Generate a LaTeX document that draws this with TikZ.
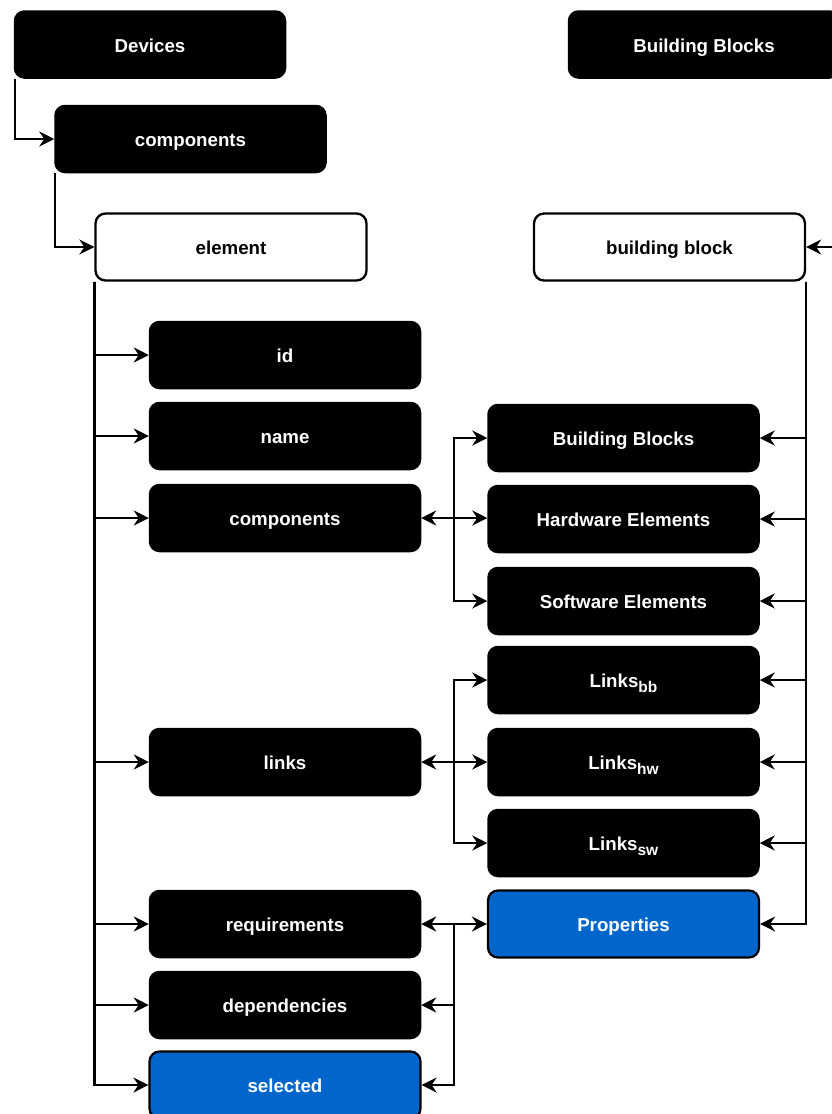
\documentclass[tikz,border=0pt]{standalone}
\usepackage{fontspec}
\setmainfont{Liberation Sans}
\usetikzlibrary{arrows.meta}
\definecolor{bblue}{HTML}{0066CC}
\tikzset{
  box/.style={rectangle, rounded corners=10pt, minimum width=271pt, minimum height=67pt, inner sep=0pt,
    draw=black, line width=1.5pt, text height=15.5pt, text depth=0pt,
    font=\fontsize{18.7}{22}\selectfont\bfseries},
  blk/.style={box, fill=black, text=white},
  wht/.style={box, fill=white, text=black, line width=2.3pt},
  blu/.style={box, fill=bblue, text=white, line width=2.2pt},
  tip/.style={Stealth[length=15pt,width=15pt,inset=5pt]},
  conn/.style={line width=2.3pt, -{Stealth[length=15pt,width=15pt,inset=5pt]}},
  biconn/.style={line width=2.3pt, {Stealth[length=15pt,width=15pt,inset=5pt]}-{Stealth[length=15pt,width=15pt,inset=5pt]}},
}
\newcommand{\lsub}[1]{\raisebox{-4.5pt}{\fontsize{15.5}{16}\selectfont #1}}
\begin{document}
\begin{tikzpicture}[x=1pt,y=-1pt]
\clip (0,0) rectangle (832,1114);
\fill[white] (0,0) rectangle (832,1114);
% top
\node[blk] (dev) at (150,44.5) {Devices};
\node[blk] (bbtop) at (704,44.5) {Building Blocks};
\node[blk] (comp1) at (190.5,139) {components};
\node[wht] (elem) at (231,247) {element};
\node[wht] (bb) at (669.5,247) {building block};
% left column
\node[blk] (id) at (285,355) {id};
\node[blk] (name) at (285,436) {name};
\node[blk] (comp2) at (285,518) {components};
\node[blk] (links) at (285,762) {links};
\node[blk] (req) at (285,924) {requirements};
\node[blk] (dep) at (285,1005) {dependencies};
\node[blu] (sel) at (285,1085) {selected};
% right column
\node[blk] (bbb) at (623.5,438) {Building Blocks};
\node[blk] (hw) at (623.5,519) {Hardware Elements};
\node[blk] (sw) at (623.5,601) {Software Elements};
\node[blk] (lbb) at (623.5,680) {Links\lsub{bb}};
\node[blk] (lhw) at (623.5,762) {Links\lsub{hw}};
\node[blk] (lsw) at (623.5,843) {Links\lsub{sw}};
\node[blu] (prop) at (623.5,924) {Properties};
% connectors top
\draw[conn] ([xshift=1pt]dev.south west) |- (comp1.west);
\draw[conn] ([xshift=1pt]comp1.south west) |- (elem.west);
\coordinate (bbin) at (845,247);
\draw[conn] (bbin) -- (bb.east);
% element branches
\foreach \t in {id,name,comp2,links,req,dep,sel}
  \draw[conn] (elem.south west) |- (\t.west);
% building block branches
\foreach \t in {bbb,hw,sw,lbb,lhw,lsw,prop}
  \draw[conn] (bb.south east) |- (\t.east);
% components <-> elements
\draw[biconn] (comp2.east) -- (comp2.east -| hw.west);
\coordinate (j1) at (454,518);
\draw[conn] (j1) |- (bbb.west);
\draw[conn] (j1) |- (sw.west);
% links
\draw[biconn] (links.east) -- (lhw.west);
\coordinate (j2) at (454,762);
\draw[conn] (j2) |- (lbb.west);
\draw[conn] (j2) |- (lsw.west);
% requirements
\draw[biconn] (req.east) -- (prop.west);
\coordinate (j3) at (454,924);
\draw[conn] (j3) |- (dep.east);
\draw[conn] (j3) |- (sel.east);
\end{tikzpicture}
\end{document}
